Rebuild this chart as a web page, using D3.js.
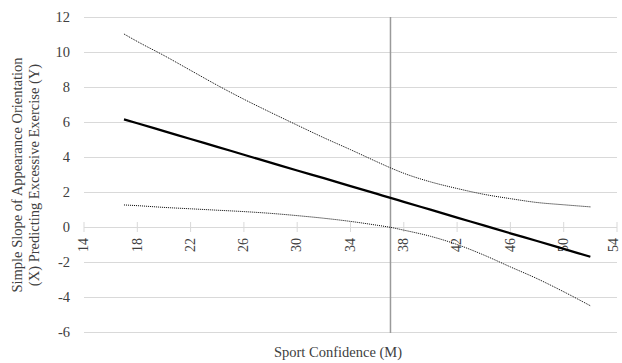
<!DOCTYPE html>
<html>
<head>
<meta charset="utf-8">
<script src="https://cdn.jsdelivr.net/npm/d3@7"></script>
<style>
  body { margin: 0; background: #fff; }
  svg text { fill: #404040; }
</style>
</head>
<body>
<div id="chart"></div>
<script>
let width = 622;
let height = 363;
let serif = "'Liberation Serif', 'Times New Roman', Times, 'DejaVu Serif', serif";

// moderator values (Sport Confidence)
let xValues = [17, 18, 20, 22, 24, 26, 28, 30, 32, 34, 36, 37, 38, 40, 42, 44, 46, 48, 50, 52];
// simple slope and its confidence band
let slope = [6.15, 5.93, 5.48, 5.03, 4.58, 4.13, 3.68, 3.23, 2.79, 2.34, 1.89, 1.66, 1.44, 0.99, 0.54, 0.09, -0.36, -0.8, -1.25, -1.7];
let upper = [11.03, 10.6, 9.8, 8.95, 8.1, 7.3, 6.55, 5.82, 5.1, 4.42, 3.72, 3.38, 3.07, 2.58, 2.2, 1.87, 1.62, 1.4, 1.27, 1.15];
let lower = [1.26, 1.22, 1.12, 1.04, 0.96, 0.88, 0.78, 0.65, 0.5, 0.32, 0.1, -0.02, -0.18, -0.53, -1.0, -1.6, -2.28, -2.95, -3.7, -4.5];
let jnPoint = 37;

let xTicks = [14, 18, 22, 26, 30, 34, 38, 42, 46, 50, 54];
let yTicks = [-6, -4, -2, 0, 2, 4, 6, 8, 10, 12];

let svg = d3.select("#chart")
    .append("svg")
    .attr("width", width)
    .attr("height", height)
    .style("font-family", serif);

let x = d3.scaleLinear().domain([14, 54]).range([84, 617]);
let y = d3.scaleLinear().domain([-6, 12]).range([332, 17]);

// horizontal gridlines + y labels
let yAxis = svg.append("g")
    .attr("transform", "translate(84,0)")
    .call(d3.axisLeft(y)
        .tickValues(yTicks)
        .tickSize(-(617 - 84))
        .tickPadding(14)
        .tickFormat(d => String(d)));
yAxis.attr("font-family", null);
yAxis.select(".domain").remove();
yAxis.selectAll(".tick line").attr("stroke", "#d9d9d9");
yAxis.selectAll(".tick text")
    .attr("font-size", 14.5)
    .style("font-family", serif)
    .attr("fill", "#404040");

// x tick marks crossing the zero line
svg.append("g").selectAll("line")
    .data(xTicks)
    .join("line")
    .attr("x1", d => x(d))
    .attr("x2", d => x(d))
    .attr("y1", y(0) - 5)
    .attr("y2", y(0) + 5)
    .attr("stroke", "#d9d9d9");

// rotated x labels under the zero line (last one nudged so it stays inside)
svg.append("g").selectAll("text")
    .data(xTicks)
    .join("text")
    .attr("transform", d => "translate(" + (x(d) - (d === 54 ? 3 : 0)) + "," + (y(0) + 11) + ") rotate(-90)")
    .attr("text-anchor", "end")
    .attr("dy", "0.3em")
    .style("font-family", serif)
    .attr("font-size", 14)
    .text(d => d);

// Johnson-Neyman line
svg.append("line")
    .attr("x1", x(jnPoint))
    .attr("x2", x(jnPoint))
    .attr("y1", y(12))
    .attr("y2", y(-6) + 1)
    .attr("stroke", "#9a9a9a")
    .attr("stroke-width", 1.5);

let line = d3.line()
    .x((d, i) => x(xValues[i]))
    .y(d => y(d))
    .curve(d3.curveMonotoneX);

svg.append("path")
    .attr("d", line(upper))
    .attr("fill", "none")
    .attr("stroke", "#000")
    .attr("stroke-width", 1)
    .attr("stroke-dasharray", "1,1");

svg.append("path")
    .attr("d", line(lower))
    .attr("fill", "none")
    .attr("stroke", "#000")
    .attr("stroke-width", 1)
    .attr("stroke-dasharray", "1,1");

svg.append("path")
    .attr("d", line(slope))
    .attr("fill", "none")
    .attr("stroke", "#000")
    .attr("stroke-width", 2.25);

// axis titles
svg.append("text")
    .attr("transform", "translate(22,175) rotate(-90)")
    .attr("text-anchor", "middle")
    .style("font-family", serif)
    .attr("font-size", 14.5)
    .text("Simple Slope of Appearance Orientation");

svg.append("text")
    .attr("transform", "translate(39,175) rotate(-90)")
    .attr("text-anchor", "middle")
    .style("font-family", serif)
    .attr("font-size", 14.5)
    .text("(X) Predicting Excessive Exercise (Y)");

svg.append("text")
    .attr("x", 338)
    .attr("y", 357)
    .attr("text-anchor", "middle")
    .style("font-family", serif)
    .attr("font-size", 14.5)
    .text("Sport Confidence (M)");
</script>
</body>
</html>
